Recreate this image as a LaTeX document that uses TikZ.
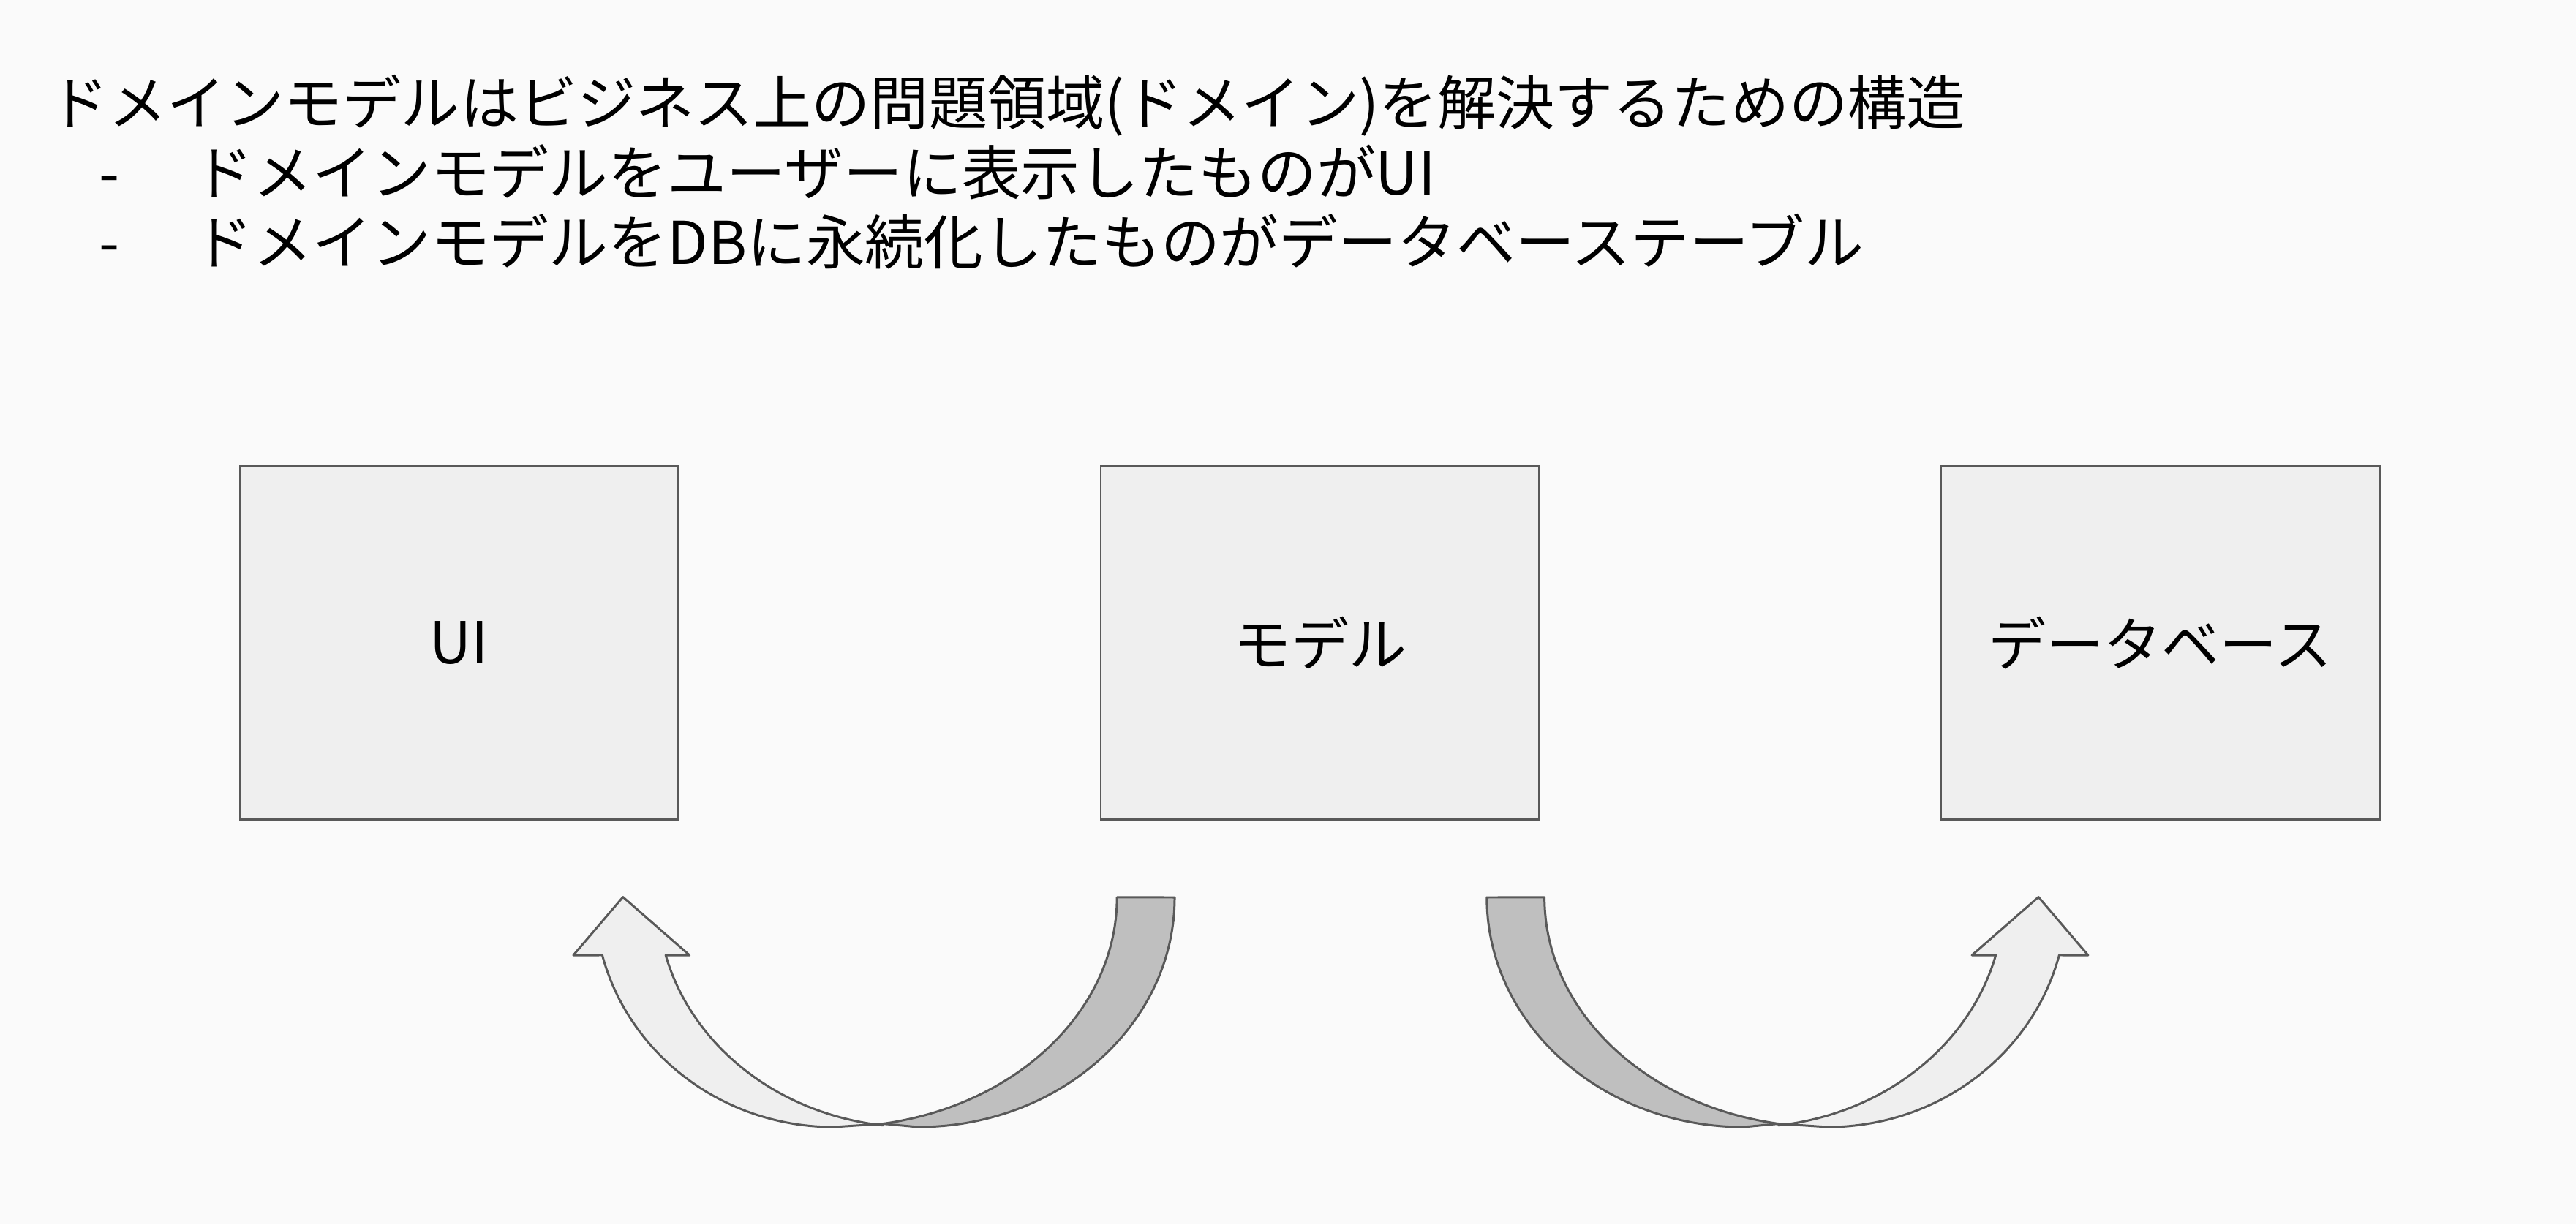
\documentclass[tikz,border=0pt]{standalone}
\usepackage{fontspec}
\setmainfont{Noto Sans CJK JP}
\definecolor{bgcolor}{HTML}{FAFAFA}
\definecolor{boxfill}{HTML}{EFEFEF}
\definecolor{darkfill}{HTML}{BFBFBF}
\definecolor{edge}{HTML}{595959}

\begin{document}
\begin{tikzpicture}[x=0.0224617cm, y=0.0224617cm,
    line/.style={font=\fontsize{23}{27}\selectfont, inner sep=0pt, anchor=base west},
    block/.style={rectangle, draw=edge, fill=boxfill, line width=0.8pt,
    minimum width=5.997cm, minimum height=4.829cm, font=\fontsize{22.5}{27}\selectfont},
    band/.style={draw=edge, line width=0.85pt, line join=round}
    ]
\fill[bgcolor] (0,0) rectangle (1568,745.27);
\useasboundingbox (0,0) rectangle (1568,745.27);

% text
\node[line, font=\fontsize{22.8}{27}\selectfont] (title) at (30,669.3) {ドメインモデルはビジネス上の問題領域(ドメイン)を解決するための構造};
\node[line] (d1) at (60,626.8) {-};
\node[line] (ui-text) at (118,626.8) {ドメインモデルをユーザーに表示したものがUI};
\node[line] (d2) at (60,584.3) {-};
\node[line] (db-text) at (118,584.3) {ドメインモデルをDBに永続化したものがデータベーステーブル};

% boxes
\node[block] (UI) at (279.5,353.8) {UI};
\node[block] (M) at (803.5,353.8) {モデル};
\node[block] (DB) at (1315,353.8) {データベース};

% model -> UI
\coordinate (m1) at (537.4,61.2);
\draw[band, fill=boxfill] (m1) -- (507.5,59.2)
  arc[start angle=-90, end angle=-165.43, x radius=145.6, y radius=139.8]
  -- (349,163.8) -- (379.2,199.2) -- (419.7,163.8) -- (405.2,163.8)
  arc[start angle=-165.43, end angle=-97.02, x radius=156.3, y radius=139.8] -- cycle;
\draw[band, fill=darkfill] (715,199)
  arc[start angle=0, end angle=-90, x radius=156.3, y radius=139.8] -- (m1)
  arc[start angle=-80.4, end angle=0, x radius=171, y radius=139.8] -- cycle;

% model -> DB
\coordinate (m2) at (1082.6,61.2);
\draw[band, fill=boxfill] (m2) -- (1112.5,59.2)
  arc[start angle=-90, end angle=-14.57, x radius=145.6, y radius=139.8]
  -- (1271,163.8) -- (1240.8,199.2) -- (1200.3,163.8) -- (1214.8,163.8)
  arc[start angle=-14.57, end angle=-82.98, x radius=156.3, y radius=139.8] -- cycle;
\draw[band, fill=darkfill] (905,199)
  arc[start angle=180, end angle=270, x radius=156.3, y radius=139.8] -- (m2)
  arc[start angle=260.4, end angle=180, x radius=171, y radius=139.8] -- cycle;
\end{tikzpicture}
\end{document}
